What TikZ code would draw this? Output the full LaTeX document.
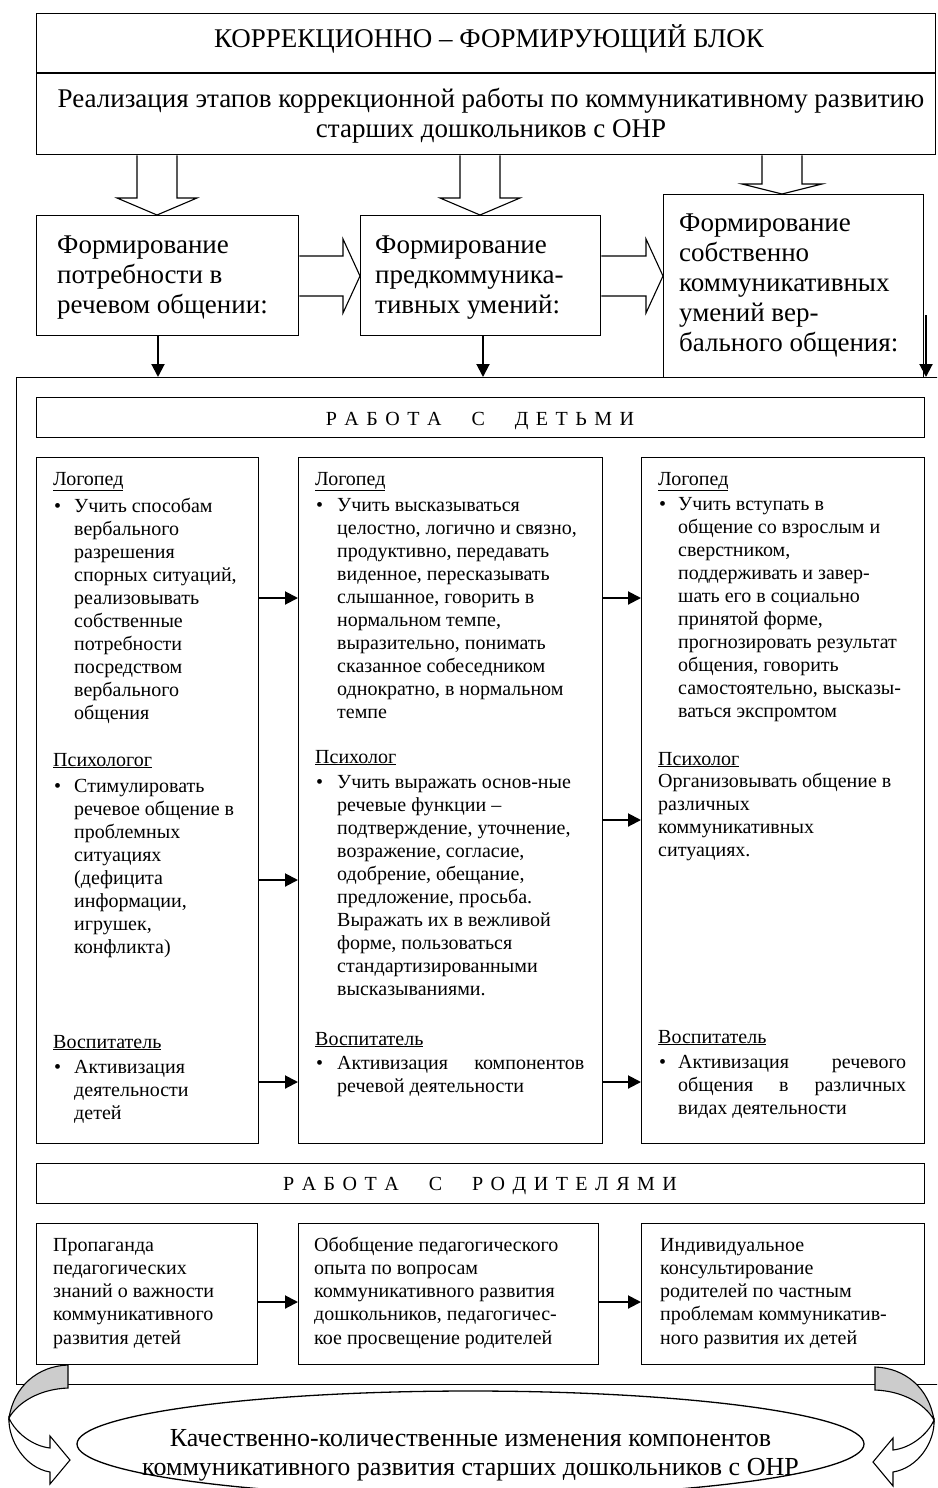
\documentclass[tikz,border=0pt]{standalone}
\usepackage{fontspec}
\setmainfont{Liberation Serif}
\usetikzlibrary{arrows.meta,calc,shapes.geometric}

% type sizes (1pt = one unit of the drawing grid)
\newcommand\fbig{\fontsize{27}{30}\selectfont}
\newcommand\fstage{\fontsize{27}{30}\selectfont}
\newcommand\fbody{\fontsize{20}{23}\selectfont}
\newcommand\fpar{\fontsize{20}{23.3}\selectfont}
\newcommand\fell{\fontsize{26}{29}\selectfont}
% letter and word spacing for the spaced-out headings
\newcommand\ls{\kern7.5pt}
\newcommand\ws{\kern30pt}
% stacked lines, first baseline on the node's base
\newcommand\lines[1]{\begin{tabular}[t]{@{}l@{}}#1\end{tabular}}
\newcommand\clines[1]{\begin{tabular}[t]{@{}c@{}}#1\end{tabular}}

\tikzset{
  box/.style={draw, line width=1.3pt, inner sep=0pt, anchor=north west},
  txt/.style={anchor=base west, inner sep=0pt},
  ctxt/.style={anchor=base, inner sep=0pt},
  blk/.style={draw, line width=1.1pt, fill=white, line join=miter},
  link/.style={line width=2pt, -{Triangle[length=13pt,width=13pt]}},
  blockdown/.style 2 args={to path={let \p1=(\tikztostart), \p2=(\tikztotarget) in
     (\x1-20pt,\y1) -- (\x1-20pt,\y2+#1) -- (\x1-#2,\y2+#1) -- (\x2,\y2)
     -- (\x1+#2,\y2+#1) -- (\x1+20pt,\y2+#1) -- (\x1+20pt,\y1)}},
  blockright/.style={to path={let \p1=(\tikztostart), \p2=(\tikztotarget) in
     (\x1,\y1+20pt) -- (\x2-17pt,\y1+20pt) -- (\x2-17pt,\y1+37pt) -- (\x2,\y1)
     -- (\x2-17pt,\y1-37pt) -- (\x2-17pt,\y1-20pt) -- (\x1,\y1-20pt)}},
  back/.style={fill=black!20, draw, line width=1.1pt},
  front/.style={fill=white, draw, line width=1.1pt, line join=miter},
}

\begin{document}
\begin{tikzpicture}[x=1pt,y=-1pt]
\useasboundingbox (0,0) rectangle (937,1488);
\clip (0,0) rectangle (937,1488);
\fill[white] (0,0) rectangle (937,1488);

% ---------- outer frame of the working part ----------
\node[box, minimum width=934, minimum height=1007] (frame) at (16,377) {};

% ---------- header block ----------
\node[box, minimum width=899, minimum height=141] (top) at (36,13) {};
\coordinate (sepy) at (0,73);
\draw[line width=1.3pt] (top.west |- sepy) -- (top.east |- sepy);
\node[ctxt, font=\fbig] (title) at (489,48) {КОРРЕКЦИОННО – ФОРМИРУЮЩИЙ БЛОК};
\node[ctxt, font=\fbig] (subtitle) at (491,107) {\clines{Реализация этапов коррекционной работы по коммуникативному развитию\\старших дошкольников с ОНР}};

% ---------- three stages ----------
\node[box, minimum width=262, minimum height=120] (s1) at (36,215) {};
\node[box, minimum width=240, minimum height=120] (s2) at (360,215) {};
\node[box, minimum width=260, minimum height=183] (s3) at (663,194) {};
\node[txt, font=\fstage] (s1t) at (57,253) {\lines{Формирование\\потребности в\\речевом общении:}};
\node[txt, font=\fstage] (s2t) at (375,253) {\lines{Формирование\\предкоммуника-\\тивных умений:}};
\node[txt, font=\fstage] (s3t) at (679,231) {\lines{Формирование\\собственно\\коммуникативных\\умений вер-\\бального общения:}};

% hollow arrows from the header to the stages
\coordinate (d1) at (157,0);
\coordinate (d2) at (480,0);
\coordinate (d3) at (782,0);
\draw[blk] (d1 |- top.south) to[blockdown={17pt}{40pt}] (d1 |- s1.north);
\draw[blk] (d2 |- top.south) to[blockdown={17pt}{40pt}] (d2 |- s2.north);
\draw[blk] (d3 |- top.south) to[blockdown={10pt}{40pt}] (d3 |- s3.north);

% hollow arrows between the stages
\coordinate (h1) at (0,276);
\draw[blk] (h1 -| s1.east) to[blockright] (h1 -| s2.west);
\draw[blk] (h1 -| s2.east) to[blockright] (h1 -| s3.west);

% stages into the working part
\coordinate (e1) at (158,0);
\coordinate (e2) at (483,0);
\coordinate (e3) at (926,315);
\draw[link] (e1 |- s1.south) -- (e1 |- frame.north);
\draw[link] (e2 |- s2.south) -- (e2 |- frame.north);
\draw[link] (e3) -- (e3 |- frame.north);

% ---------- work with children ----------
\node[box, minimum width=888, minimum height=40] (kids) at (36,397) {};
\node[ctxt, font=\fbody] (kidst) at (480,425) {Р\ls А\ls Б\ls О\ls Т\ls А\ws С\ws Д\ls Е\ls Т\ls Ь\ls М\ls И};

\node[box, minimum width=222, minimum height=686] (c1) at (36,457) {};
\node[box, minimum width=304, minimum height=686] (c2) at (298,457) {};
\node[box, minimum width=283, minimum height=686] (c3) at (641,457) {};

% column 1
\node[txt, font=\fbody] (h11) at (53,485) {\underline{Логопед}};
\node[txt, font=\fbody] (b11) at (54,512) {\textbullet};
\node[txt, font=\fbody] (t11) at (74,512) {\lines{Учить способам\\вербального\\разрешения\\спорных ситуаций,\\реализовывать\\собственные\\потребности\\посредством\\вербального\\общения}};
\node[txt, font=\fbody] (h12) at (53,766) {\underline{Психологог}};
\node[txt, font=\fbody] (b12) at (54,792) {\textbullet};
\node[txt, font=\fbody] (t12) at (74,792) {\lines{Стимулировать\\речевое общение в\\проблемных\\ситуациях\\(дефицита\\информации,\\игрушек,\\конфликта)}};
\node[txt, font=\fbody] (h13) at (53,1048) {\underline{Воспитатель}};
\node[txt, font=\fbody] (b13) at (54,1073) {\textbullet};
\node[txt, font=\fbody] (t13) at (74,1073) {\lines{Активизация\\деятельности\\детей}};

% column 2
\node[txt, font=\fbody] (h21) at (315,485) {\underline{Логопед}};
\node[txt, font=\fbody] (b21) at (316,511) {\textbullet};
\node[txt, font=\fbody] (t21) at (337,511) {\lines{Учить высказываться\\целостно, логично и связно,\\продуктивно, передавать\\виденное, пересказывать\\слышанное, говорить в\\нормальном темпе,\\выразительно, понимать\\сказанное собеседником\\однократно, в нормальном\\темпе}};
\node[txt, font=\fbody] (h22) at (315,763) {\underline{Психолог}};
\node[txt, font=\fbody] (b22) at (316,788) {\textbullet};
\node[txt, font=\fbody] (t22) at (337,788) {\lines{Учить выражать основ-ные\\речевые функции –\\подтверждение, уточнение,\\возражение, согласие,\\одобрение, обещание,\\предложение, просьба.\\Выражать их в вежливой\\форме, пользоваться\\стандартизированными\\высказываниями.}};
\node[txt, font=\fbody] (h23) at (315,1045) {\underline{Воспитатель}};
\node[txt, font=\fbody] (b23) at (316,1069) {\textbullet};
\node[txt, font=\fbody] (t23) at (337,1069) {\lines{\makebox[247pt][s]{Активизация компонентов}\\речевой деятельности}};

% column 3
\node[txt, font=\fbody] (h31) at (658,485) {\underline{Логопед}};
\node[txt, font=\fbody] (b31) at (659,510) {\textbullet};
\node[txt, font=\fbody] (t31) at (678,510) {\lines{Учить вступать в\\общение со взрослым и\\сверстником,\\поддерживать и завер-\\шать его в социально\\принятой форме,\\прогнозировать результат\\общения, говорить\\самостоятельно, высказы-\\ваться экспромтом}};
\node[txt, font=\fbody] (h32) at (658,765) {\underline{Психолог}};
\node[txt, font=\fbody] (t32) at (658,787) {\lines{Организовывать общение в\\различных\\коммуникативных\\ситуациях.}};
\node[txt, font=\fbody] (h33) at (658,1043) {\underline{Воспитатель}};
\node[txt, font=\fbody] (b33) at (659,1068) {\textbullet};
\node[txt, font=\fbody] (t33) at (678,1068) {\lines{\makebox[228pt][s]{Активизация речевого}\\\makebox[228pt][s]{общения в различных}\\видах деятельности}};

% links between the columns
\coordinate (ya) at (0,598);
\coordinate (yb) at (0,880);
\coordinate (yc) at (0,820);
\coordinate (yd) at (0,1082);
\draw[link] (ya -| c1.east) -- (ya -| c2.west);
\draw[link] (ya -| c2.east) -- (ya -| c3.west);
\draw[link] (yb -| c1.east) -- (yb -| c2.west);
\draw[link] (yc -| c2.east) -- (yc -| c3.west);
\draw[link] (yd -| c1.east) -- (yd -| c2.west);
\draw[link] (yd -| c2.east) -- (yd -| c3.west);

% ---------- work with parents ----------
\node[box, minimum width=888, minimum height=40] (par) at (36,1163) {};
\node[ctxt, font=\fbody] (part) at (480,1190) {Р\ls А\ls Б\ls О\ls Т\ls А\ws С\ws Р\ls О\ls Д\ls И\ls Т\ls Е\ls Л\ls Я\ls М\ls И};

\node[box, minimum width=221, minimum height=141] (p1) at (36,1223) {};
\node[box, minimum width=300, minimum height=141] (p2) at (298,1223) {};
\node[box, minimum width=283, minimum height=141] (p3) at (641,1223) {};
\node[txt, font=\fpar] (p1t) at (53,1251) {\lines{Пропаганда\\педагогических\\знаний о важности\\коммуникативного\\развития детей}};
\node[txt, font=\fpar] (p2t) at (314,1251) {\lines{Обобщение педагогического\\опыта по вопросам\\коммуникативного развития\\дошкольников, педагогичес-\\кое просвещение родителей}};
\node[txt, font=\fpar] (p3t) at (660,1251) {\lines{Индивидуальное\\консультирование\\родителей по частным\\проблемам коммуникатив-\\ного развития их детей}};

\coordinate (ye) at (0,1302);
\draw[link] (ye -| p1.east) -- (ye -| p2.west);
\draw[link] (ye -| p2.east) -- (ye -| p3.west);

% ---------- result ----------
\node[draw, ellipse, line width=1.3pt, inner sep=0pt, minimum width=787, minimum height=106] (goal) at (470.5,1444) {};
\node[ctxt, font=\fell] (goalt) at (470.5,1446) {\clines{Качественно-количественные изменения компонентов\\коммуникативного развития старших дошкольников с ОНР}};

% curved return arrows at both sides
\path[back] (68,1365) .. controls (38,1366) and (14,1386) .. (9,1418)
  .. controls (18,1402) and (40,1389) .. (68,1388) -- cycle;
\path[front] (9,1418) .. controls (8,1440) and (25,1468) .. (50,1472)
  -- (50,1484) -- (70,1460) -- (50,1436) -- (50,1448)
  .. controls (32,1446) and (15,1432) .. (9,1418) -- cycle;
\begin{scope}[xshift=943pt, xscale=-1]
\path[back] (68,1367) .. controls (38,1368) and (14,1388) .. (9,1420)
  .. controls (18,1404) and (40,1391) .. (68,1390) -- cycle;
\path[front] (9,1420) .. controls (8,1442) and (25,1468) .. (50,1472)
  -- (50,1486) -- (70,1462) -- (50,1438) -- (50,1450)
  .. controls (32,1448) and (15,1434) .. (9,1420) -- cycle;
\end{scope}
\end{tikzpicture}
\end{document}
